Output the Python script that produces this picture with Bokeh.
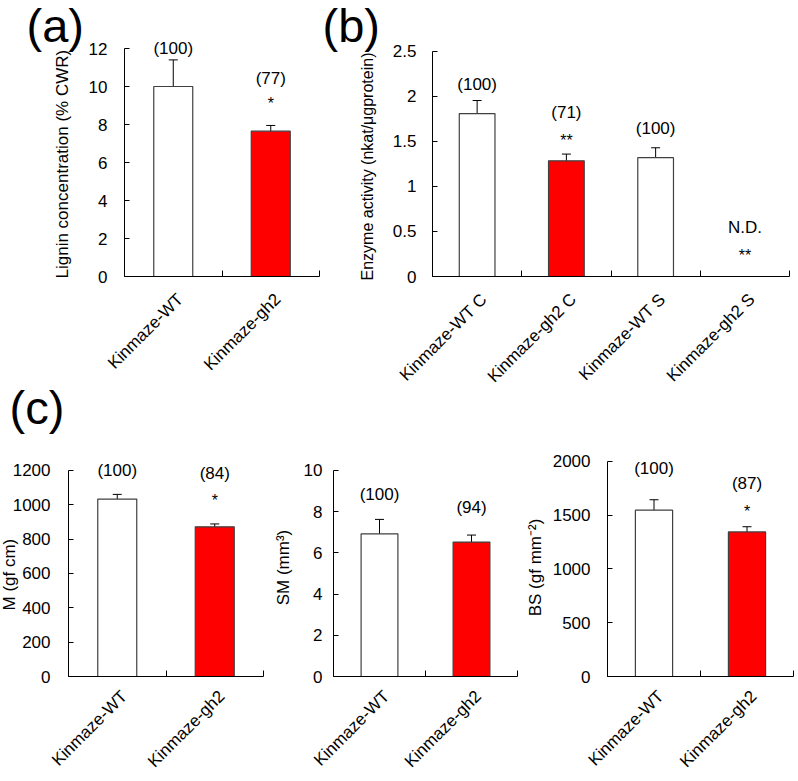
import math
import numpy as np
from bokeh.plotting import figure
from bokeh.models import ColumnDataSource, Whisker, TeeHead, FixedTicker, Range1d, Title
from bokeh.layouts import row, column
from bokeh.embed import file_html
from bokeh.resources import INLINE
from bokeh.core.properties import value

FONT = "Liberation Sans"
FS = "17px"

# ---------------- data ----------------
# (a) lignin concentration
a_cats = ["Kinmaze-WT", "Kinmaze-gh2"]
a_vals = [10.0, 7.65]
a_errs = [1.4, 0.3]
a_pct = ["(100)", "(77)"]
a_sig = ["", "*"]
a_yticks = [0, 2, 4, 6, 8, 10, 12]
a_ylabel = "Lignin concentration (% CWR)"

# (b) enzyme activity
b_cats = ["Kinmaze-WT C", "Kinmaze-gh2 C", "Kinmaze-WT S", "Kinmaze-gh2 S"]
b_vals = [1.81, 1.285, 1.32, None]   # None = N.D.
b_errs = [0.145, 0.075, 0.11, None]
b_pct = ["(100)", "(71)", "(100)", "N.D."]
b_sig = ["", "**", "", "**"]
b_yticks = [0, 0.5, 1, 1.5, 2, 2.5]
b_ytick_labels = ["0", "0.5", "1", "1.5", "2", "2.5"]
b_ylabel = "Enzyme activity (nkat/\u03bcgprotein)"

# (c) M
c1_cats = ["Kinmaze-WT", "Kinmaze-gh2"]
c1_vals = [1033, 871]
c1_errs = [27, 17]
c1_pct = ["(100)", "(84)"]
c1_sig = ["", "*"]
c1_yticks = [0, 200, 400, 600, 800, 1000, 1200]
c1_ylabel = "M (gf cm)"

# (c) SM
c2_cats = ["Kinmaze-WT", "Kinmaze-gh2"]
c2_vals = [6.92, 6.52]
c2_errs = [0.70, 0.34]
c2_pct = ["(100)", "(94)"]
c2_sig = ["", ""]
c2_yticks = [0, 2, 4, 6, 8, 10]
c2_ylabel = "SM (mm\u00b3)"

# (c) BS
c3_cats = ["Kinmaze-WT", "Kinmaze-gh2"]
c3_vals = [1547, 1345]
c3_errs = [97, 48]
c3_pct = ["(100)", "(87)"]
c3_sig = ["", "*"]
c3_yticks = [0, 500, 1000, 1500, 2000]
c3_ylabel = "BS (gf mm\u207b\u00b2)"

bar_colors_2 = ["white", "red"]
bar_colors_4 = ["white", "red", "white", "red"]

# ---------------- annotation placement (data units) ----------------
a_pct_y = [12.0, 10.42]
a_sig_y = [0, 9.1]
b_pct_y = [2.133, 1.822, 1.644, 0.544]
b_sig_y = [0, 1.51, 0, 0.235]
c1_pct_y = [1200, 1183]
c1_sig_y = [0, 1022]
c2_pct_y = [8.85, 8.2]
c2_sig_y = [0, 0]
c3_pct_y = [1938, 1792]
c3_sig_y = [0, 1537]


def letter_title(text, offset, standoff):
    return Title(text=text, align="left", vertical_align="bottom", offset=offset, standoff=standoff,
                 text_font=FONT, text_font_size="47px", text_font_style="normal", text_color="black")


def side_label(text, offset, standoff, size=FS):
    return Title(text=text, align="left", vertical_align="bottom", offset=offset, standoff=standoff,
                 text_font=FONT, text_font_size=size, text_font_style="normal", text_color="black")


def panel(cats, vals, errs, colors, yticks, ylabel, y_end, pct, pct_y, sig, sig_y,
          W, H, bl, br, bt, bb, label_standoff, axis_label_standoff, x_standoff,
          ytick_labels=None, x_shift_px=7):
    n = len(cats)
    xs = [float(v) for v in (np.arange(n) + 0.5)]
    p = figure(width=W, height=H, x_range=Range1d(0, n), y_range=Range1d(0, y_end),
               output_backend="svg", toolbar_location=None,
               min_border_left=bl, min_border_right=br, min_border_top=bt, min_border_bottom=bb)
    p.xgrid.visible = False
    p.ygrid.visible = False
    p.outline_line_color = None
    p.background_fill_color = "white"

    v = np.array([np.nan if x is None else x for x in vals], dtype=float)
    e = np.array([np.nan if x is None else x for x in errs], dtype=float)
    ok = ~np.isnan(v)
    bx = [xs[i] for i in range(n) if ok[i]]
    src = ColumnDataSource(dict(x=bx, top=list(v[ok]), color=[colors[i] for i in range(n) if ok[i]],
                                upper=list(v[ok] + e[ok]), lower=list(v[ok] - e[ok])))
    p.vbar(x="x", top="top", bottom=0, width=0.4, source=src, fill_color="color",
           line_color="#404040", line_width=1.2)
    p.add_layout(Whisker(source=src, base="x", upper="upper", lower="lower",
                         line_color="black", line_width=1,
                         upper_head=TeeHead(size=9, line_color="black", line_width=1),
                         lower_head=TeeHead(size=9, line_color="black", line_width=1)))

    p.text(x=xs, y=pct_y, text=pct, text_align="center", text_baseline="middle",
           text_font=value(FONT), text_font_size=FS, text_color="black")
    sx = [xs[i] for i in range(n) if sig[i]]
    sy = [sig_y[i] for i in range(n) if sig[i]]
    st = [sig[i] for i in range(n) if sig[i]]
    if st:
        p.text(x=sx, y=sy, text=st, text_align="center", text_baseline="middle",
               text_font=value(FONT), text_font_size="16px", text_color="black")

    # y axis
    ya = p.yaxis[0]
    ya.ticker = FixedTicker(ticks=yticks)
    ya.bounds = (0, yticks[-1])
    if ytick_labels is not None:
        ya.major_label_overrides = {float(t): l for t, l in zip(yticks, ytick_labels)}
    ya.major_tick_in = 5
    ya.major_tick_out = 0
    ya.minor_tick_line_color = None
    ya.axis_line_color = "black"
    ya.major_tick_line_color = "black"
    ya.major_label_standoff = label_standoff
    ya.major_label_text_font = FONT
    ya.major_label_text_font_size = FS
    ya.major_label_text_color = "black"
    if ylabel is not None:
        ya.axis_label = ylabel
        ya.axis_label_text_font = FONT
        ya.axis_label_text_font_size = FS
        ya.axis_label_text_font_style = "normal"
        ya.axis_label_text_color = "black"
        ya.axis_label_standoff = axis_label_standoff

    # x axis: labels under category centres, ticks at category boundaries
    frame_w = W - bl - br
    shift = x_shift_px * n / frame_w
    lab_pos = [x + shift for x in xs]
    xa = p.xaxis[0]
    xa.ticker = FixedTicker(ticks=lab_pos, minor_ticks=[float(i) for i in range(n + 1)])
    xa.major_label_overrides = {x: c for x, c in zip(lab_pos, cats)}
    xa.major_tick_in = 0
    xa.major_tick_out = 0
    xa.major_tick_line_color = None
    xa.minor_tick_in = 6
    xa.minor_tick_out = 0
    xa.minor_tick_line_color = "black"
    xa.axis_line_color = "black"
    xa.major_label_orientation = math.pi / 4
    xa.major_label_standoff = x_standoff
    xa.major_label_text_font = FONT
    xa.major_label_text_font_size = FS
    xa.major_label_text_color = "black"
    return p


# top row: 440 px tall (frames 20..276), bottom row: 340 px tall (frames 458..679)
pa = panel(a_cats, a_vals, a_errs, bar_colors_2, a_yticks, None, 13.474, a_pct, a_pct_y, a_sig, a_sig_y,
           W=321, H=440, bl=124, br=2, bt=20, bb=164, label_standoff=17, axis_label_standoff=0,
           x_standoff=20)
pa.add_layout(letter_title("(a)", -98, -62), "above")
pa.add_layout(side_label(a_ylabel, -2, 27), "left")
pa.add_layout(letter_title("(c)", -115, -10), "below")

pb = panel(b_cats, b_vals, b_errs, bar_colors_4, b_yticks, None, 2.844, b_pct, b_pct_y, b_sig, b_sig_y,
           W=476, H=440, bl=111, br=8, bt=20, bb=164, label_standoff=16, axis_label_standoff=0,
           x_standoff=20, ytick_labels=b_ytick_labels)
pb.add_layout(letter_title("(b)", -110, -62), "above")
pb.add_layout(side_label(b_ylabel, -4, 27, "16px"), "left")

pc1 = panel(c1_cats, c1_vals, c1_errs, bar_colors_2, c1_yticks, None, 1268.9, c1_pct, c1_pct_y, c1_sig, c1_sig_y,
            W=270, H=340, bl=68, br=7, bt=18, bb=101, label_standoff=18, axis_label_standoff=0,
            x_standoff=17)
pc1.add_layout(side_label(c1_ylabel, 66, -18), "left")

pc2 = panel(c2_cats, c2_vals, c2_errs, bar_colors_2, c2_yticks, c2_ylabel, 10.574, c2_pct, c2_pct_y, c2_sig, c2_sig_y,
            W=252, H=340, bl=59, br=5, bt=18, bb=101, label_standoff=11, axis_label_standoff=8,
            x_standoff=17)
pc3 = panel(c3_cats, c3_vals, c3_errs, bar_colors_2, c3_yticks, c3_ylabel, 2027.5, c3_pct, c3_pct_y, c3_sig, c3_sig_y,
            W=275, H=340, bl=78, br=4, bt=18, bb=101, label_standoff=17, axis_label_standoff=5,
            x_standoff=17)

layout = column(row(pa, pb), row(pc1, pc2, pc3))
open("out.html", "w").write(file_html(layout, INLINE))
